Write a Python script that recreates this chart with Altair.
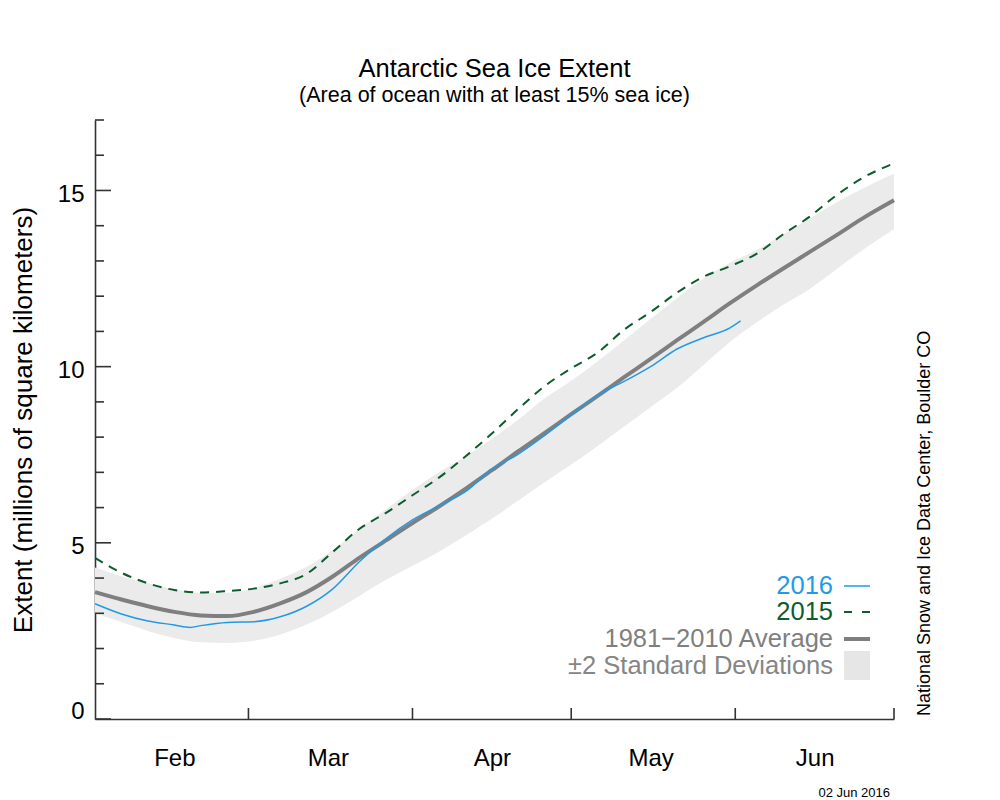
import altair as alt
import pandas as pd

FONT = "Liberation Sans"

# ---- data -------------------------------------------------------------
clim_dates = ["2016-02-01", "2016-02-06", "2016-02-11", "2016-02-16", "2016-02-21",
              "2016-02-26", "2016-03-02", "2016-03-07", "2016-03-12", "2016-03-17",
              "2016-03-22", "2016-03-27", "2016-04-01", "2016-04-06", "2016-04-11",
              "2016-04-16", "2016-04-21", "2016-04-26", "2016-05-01", "2016-05-06",
              "2016-05-11", "2016-05-16", "2016-05-21", "2016-05-26", "2016-05-31",
              "2016-06-05", "2016-06-10", "2016-06-15", "2016-06-20", "2016-06-25",
              "2016-07-01"]
avg_vals = [3.60, 3.39, 3.20, 3.04, 2.94, 2.92, 3.04, 3.28, 3.60, 4.05,
            4.58, 5.07, 5.56, 6.03, 6.53, 7.06, 7.60, 8.12, 8.65, 9.17,
            9.70, 10.22, 10.75, 11.27, 11.80, 12.30, 12.78, 13.25, 13.72, 14.20,
            14.72]
sd_low = [3.00, 2.75, 2.50, 2.30, 2.18, 2.16, 2.22, 2.40, 2.68, 3.05,
          3.50, 3.95, 4.35, 4.75, 5.20, 5.68, 6.20, 6.72, 7.22, 7.75,
          8.30, 8.85, 9.40, 10.05, 10.70, 11.25, 11.75, 12.20, 12.75, 13.30,
          13.90]
sd_high = [4.30, 4.05, 3.85, 3.68, 3.58, 3.58, 3.72, 3.98, 4.32, 4.80,
           5.40, 5.95, 6.50, 7.00, 7.45, 7.95, 8.50, 9.10, 9.60, 10.15,
           10.75, 11.35, 11.95, 12.50, 12.95, 13.30, 13.75, 14.20, 14.65, 15.05,
           15.48]
vals_2015 = [4.57, 4.15, 3.85, 3.66, 3.59, 3.63, 3.70, 3.85, 4.12, 4.75,
             5.40, 5.85, 6.35, 6.85, 7.45, 8.10, 8.80, 9.45, 9.95, 10.40,
             11.05, 11.55, 12.10, 12.55, 12.85, 13.20, 13.75, 14.25, 14.85, 15.35,
             15.77]

dates_2016 = ["2016-02-01", "2016-02-06", "2016-02-11", "2016-02-16", "2016-02-19",
              "2016-02-21", "2016-02-26", "2016-03-02", "2016-03-07", "2016-03-12",
              "2016-03-17", "2016-03-22", "2016-03-27", "2016-04-01", "2016-04-06",
              "2016-04-11", "2016-04-16", "2016-04-21", "2016-04-26", "2016-05-01",
              "2016-05-06", "2016-05-11", "2016-05-16", "2016-05-21", "2016-05-26",
              "2016-05-31", "2016-06-02"]
vals_2016 = [3.27, 2.98, 2.78, 2.67, 2.60, 2.65, 2.74, 2.76, 2.90, 3.20,
             3.70, 4.47, 5.12, 5.65, 6.05, 6.45, 7.10, 7.52, 8.05, 8.63,
             9.20, 9.58, 10.00, 10.50, 10.82, 11.10, 11.30]

month_ticks = ["2016-03-01", "2016-04-01", "2016-05-01", "2016-06-01", "2016-07-01"]
month_label_days = [(2, 16), (3, 16), (4, 16), (5, 16), (6, 16)]
y_major = [0, 5, 10, 15]
y_minor = [1, 2, 3, 4, 6, 7, 8, 9, 11, 12, 13, 14, 16, 17]

legend_labels = ["2016", "2015", "1981\u22122010 Average", "\u00b12 Standard Deviations"]
legend_colors = ["#1f9be6", "#0d5c2e", "#7f7f7f", "#858585"]

C_2016 = "#1f9be6"
C_2015 = "#0d5c2e"
C_AVG = "#7f7f7f"
C_BAND = "#ebebeb"
C_AXIS = "#333333"

W, H = 799, 599

clim = pd.DataFrame({"date": clim_dates, "avg": avg_vals, "lo": sd_low,
                     "hi": sd_high, "v2015": vals_2015})
d2016 = pd.DataFrame({"date": dates_2016, "v": vals_2016})
mt = pd.DataFrame({"date": month_ticks})
ymaj = pd.DataFrame({"v": y_major})
ymin = pd.DataFrame({"v": y_minor})

x_scale = alt.Scale(type="utc", nice=False,
                    domain=[alt.DateTime(year=2016, month=2, date=1, utc=True),
                            alt.DateTime(year=2016, month=7, date=1, utc=True)])
y_scale = alt.Scale(domain=[0, 17], nice=False, zero=False)

x_axis = alt.Axis(values=[alt.DateTime(year=2016, month=m, date=d, utc=True)
                          for m, d in month_label_days],
                  labelExpr="utcFormat(datum.value, '%b')",
                  ticks=False, tickSize=0, grid=False, title=None,
                  domainColor=C_AXIS, domainWidth=1.6,
                  labelFont=FONT, labelFontSize=24, labelColor="black",
                  labelPadding=27)
y_axis = alt.Axis(values=y_major, ticks=False, tickSize=0, grid=False,
                  title="Extent (millions of square kilometers)",
                  titleFont=FONT, titleFontSize=26, titleFontWeight="normal",
                  titleColor="black", titlePadding=21,
                  domainColor=C_AXIS, domainWidth=1.6,
                  labelFont=FONT, labelFontSize=24, labelColor="black",
                  labelPadding=11, labelOffset=4, labelFlush=True)


def X(field):
    return alt.X(field, scale=x_scale, axis=x_axis)


def Y(field):
    return alt.Y(field, scale=y_scale, axis=y_axis)


band = alt.Chart(clim).mark_area(color=C_BAND, interpolate="monotone").encode(
    x=X("date:T"), y=Y("lo:Q"), y2="hi:Q",
)
avg_line = alt.Chart(clim).mark_line(color=C_AVG, strokeWidth=4,
                                     interpolate="monotone").encode(
    x=X("date:T"), y=Y("avg:Q"),
)
line_2015 = alt.Chart(clim).mark_line(color=C_2015, strokeWidth=2,
                                      strokeDash=[9, 7],
                                      interpolate="monotone").encode(
    x=X("date:T"), y=Y("v2015:Q"),
)
line_2016 = alt.Chart(d2016).mark_line(color=C_2016, strokeWidth=1.5,
                                       interpolate="monotone").encode(
    x=X("date:T"), y=Y("v:Q"),
)

xticks = alt.Chart(mt).mark_rule(color=C_AXIS, strokeWidth=1.6).encode(
    x=X("date:T"), y=alt.value(H), y2=alt.value(H - 11),
)
ymaj_ticks = alt.Chart(ymaj).mark_rule(color=C_AXIS, strokeWidth=1.6).encode(
    y=Y("v:Q"), x=alt.value(0), x2=alt.value(16),
)
ymin_ticks = alt.Chart(ymin).mark_rule(color=C_AXIS, strokeWidth=1.6).encode(
    y=Y("v:Q"), x=alt.value(0), x2=alt.value(9),
)

# legend (drawn manually: labels right-aligned, symbols on the right)
leg_rows_y = [466, 492, 519, 546]
leg_layers = []
for lab, col, yy in zip(legend_labels, legend_colors, leg_rows_y):
    leg_layers.append(
        alt.Chart(pd.DataFrame({"label": [lab]})).mark_text(
            align="right", baseline="middle", font=FONT, fontSize=25.5, color=col
        ).encode(text="label:N", x=alt.value(738), y=alt.value(yy))
    )
one = pd.DataFrame({"k": [0]})
leg_layers.append(alt.Chart(one).mark_rule(color=C_2016, strokeWidth=1.5).encode(
    x=alt.value(749), x2=alt.value(775), y=alt.value(leg_rows_y[0])))
leg_layers.append(alt.Chart(one).mark_rule(color=C_2015, strokeWidth=2,
                                           strokeDash=[8, 10]).encode(
    x=alt.value(749), x2=alt.value(775), y=alt.value(leg_rows_y[1])))
leg_layers.append(alt.Chart(one).mark_rule(color=C_AVG, strokeWidth=4).encode(
    x=alt.value(749), x2=alt.value(775), y=alt.value(leg_rows_y[2])))
leg_layers.append(alt.Chart(one).mark_rect(color="#e6e6e6").encode(
    x=alt.value(749), x2=alt.value(775), y=alt.value(531), y2=alt.value(560)))

credit = alt.Chart(pd.DataFrame({"t": ["National Snow and Ice Data Center, Boulder CO"]})).mark_text(
    angle=270, align="left", baseline="middle", font=FONT, fontSize=18, color="black"
).encode(text="t:N", x=alt.value(830), y=alt.value(596))

stamp = alt.Chart(pd.DataFrame({"t": ["02 Jun 2016"]})).mark_text(
    align="right", baseline="middle", font=FONT, fontSize=13, color="black"
).encode(text="t:N", x=alt.value(795), y=alt.value(673))

chart = alt.layer(
    band, avg_line, line_2015, line_2016, xticks, ymaj_ticks, ymin_ticks,
    *leg_layers, credit, stamp
).properties(
    width=W, height=H,
    title=alt.TitleParams(
        text="Antarctic Sea Ice Extent",
        subtitle="(Area of ocean with at least 15% sea ice)",
        font=FONT, subtitleFont=FONT, fontSize=25.5, subtitleFontSize=21.5,
        fontWeight="normal", color="black", subtitleColor="black",
        anchor="middle", offset=13, subtitlePadding=2,
    ),
    autosize=alt.AutoSizeParams(type="none"),
    padding={"left": 87, "top": 112, "right": 90, "bottom": 80},
).configure(background="white").configure_view(stroke=None)

chart.save("out.html", embed_options={"renderer": "svg", "actions": False})
